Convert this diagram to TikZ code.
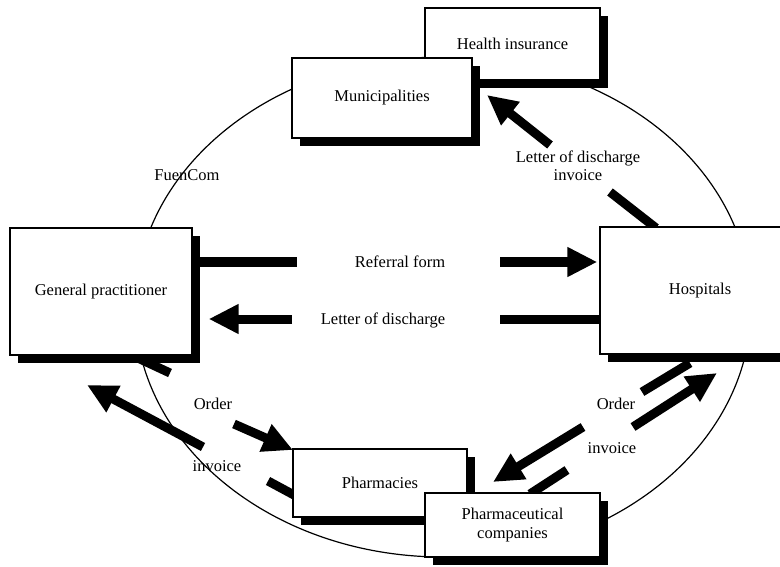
\documentclass[tikz,border=0pt]{standalone}
\usepackage{fontspec}
\setmainfont{Liberation Serif}
\usetikzlibrary{arrows.meta,shadows,backgrounds}
\newcommand\figfont{\fontsize{16.5}{18.5}\selectfont}

\begin{document}
\begin{tikzpicture}[x=1pt,y=-1pt,box/.style={draw=black,fill=white,line width=1.4pt,inner sep=0pt,align=center,font=\figfont,drop shadow={shadow xshift=8pt,shadow yshift=-8pt,fill=black,opacity=1}},lbl/.style={inner sep=0pt,align=center,font=\figfont},bar/.style={draw=black,line width=9pt},flow/.style={bar,-{Triangle[length=30pt,width=28pt]}}]
\useasboundingbox (0,0) rectangle (780,567);
\clip (0,0) rectangle (780,567);

\node[box,minimum width=175,minimum height=72] (hi) at (512.5,44) {Health insurance};
\node[box,minimum width=180,minimum height=80] (mun) at (382,98) {Municipalities};
\node[box,minimum width=182,minimum height=127] (gp) at (101,291.5) {General practitioner};
\node[box,minimum width=200,minimum height=127] (hosp) at (700,290.5) {Hospitals};
\node[box,minimum width=174,minimum height=68] (ph) at (380,483) {Pharmacies};
\node[box,minimum width=175,minimum height=64] (pc) at (512.5,525) {Pharmaceutical\\companies};

\node[lbl] (fc) at (187,175) {FuenCom};
\node[lbl] (lref) at (400,262) {Referral form};
\node[lbl] (llod) at (383,320) {Letter of discharge};
\node[lbl,font=\fontsize{16.5}{18}\selectfont] (llodi) at (578,166) {Letter of discharge\\invoice};
\node[lbl] (lordl) at (213,404) {Order};
\node[lbl] (linvl) at (217,466) {invoice};
\node[lbl] (lordr) at (616,404) {Order};
\node[lbl] (linvr) at (612,448) {invoice};

% ends of the gaps round the labels
\coordinate (r1) at (297,262);\coordinate (r2) at (500,262);
\coordinate (d1) at (500,319);\coordinate (d2) at (292,319);
\coordinate (c0) at (656,228);\coordinate (c1) at (610,192);\coordinate (c2) at (550,145);\coordinate (c3) at (487,95);
\coordinate (o0) at (140,359);\coordinate (o1) at (170,373);\coordinate (o2) at (234,424);\coordinate (o3) at (293,450);
\coordinate (i0) at (294,495);\coordinate (i1) at (268,481);\coordinate (i2) at (203,447);\coordinate (i3) at (87,385);
\coordinate (p0) at (690,363);\coordinate (p1) at (642,392);\coordinate (p2) at (583,427);\coordinate (p3) at (493,482);
\coordinate (q0) at (530,494);\coordinate (q1) at (567,470);\coordinate (q2) at (633,427);\coordinate (q3) at (717,373);

\begin{scope}[on background layer]
\draw[line width=1.2pt] (443,307) ellipse [x radius=308,y radius=250];
\draw[bar](gp.east|-r1)--(r1);\draw[flow,shorten >=2pt](r2)--(hosp.west|-r2);
\draw[bar](hosp.west|-d1)--(d1);\draw[flow,shorten >=16pt](d2)--(gp.east|-d2);
\draw[bar](c0)--(c1);\draw[flow](c2)--(c3);
\draw[bar](o0)--(o1);\draw[flow](o2)--(o3);
\draw[bar](i0)--(i1);\draw[flow](i2)--(i3);
\draw[bar](p0)--(p1);\draw[flow](p2)--(p3);
\draw[bar](q0)--(q1);\draw[flow](q2)--(q3);
\end{scope}
\end{tikzpicture}
\end{document}
